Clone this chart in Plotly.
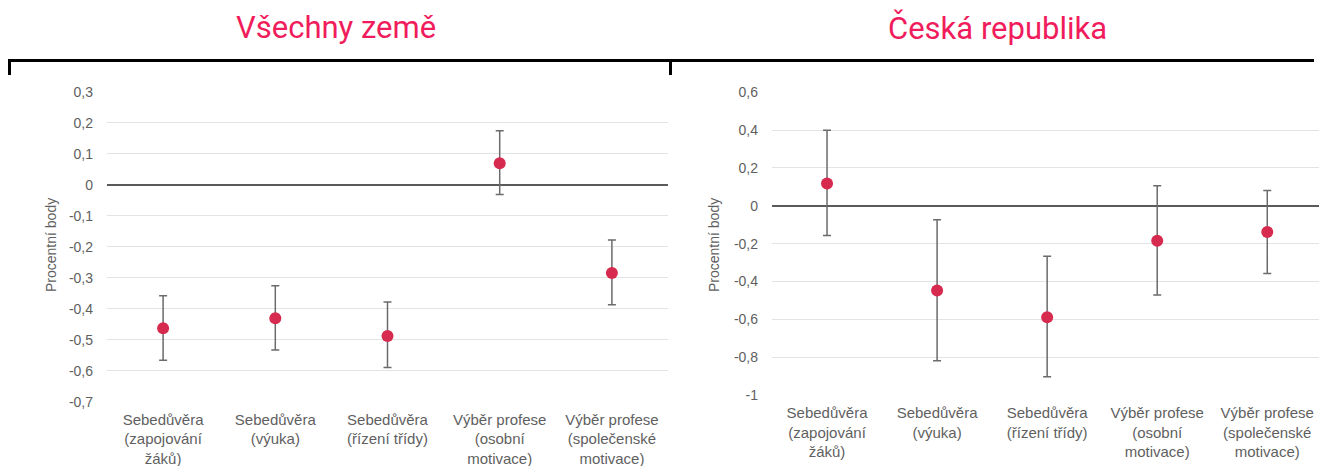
import plotly.graph_objects as go

categories = [
    "Sebedůvěra<br>(zapojování<br>žáků)",
    "Sebedůvěra<br>(výuka)",
    "Sebedůvěra<br>(řízení třídy)",
    "Výběr profese<br>(osobní<br>motivace)",
    "Výběr profese<br>(společenské<br>motivace)",
]

# Všechny země
all_values = [-0.463, -0.431, -0.488, 0.069, -0.285]
all_upper = [-0.358, -0.326, -0.378, 0.174, -0.178]
all_lower = [-0.566, -0.533, -0.590, -0.032, -0.387]

# Česká republika
cz_values = [0.118, -0.448, -0.589, -0.185, -0.139]
cz_upper = [0.400, -0.074, -0.266, 0.106, 0.081]
cz_lower = [-0.157, -0.819, -0.903, -0.472, -0.358]

left_ticks = [0.3, 0.2, 0.1, 0, -0.1, -0.2, -0.3, -0.4, -0.5, -0.6, -0.7]
left_ticktext = ["0,3", "0,2", "0,1", "0", "-0,1", "-0,2", "-0,3", "-0,4", "-0,5", "-0,6", "-0,7"]
right_ticks = [0.6, 0.4, 0.2, 0, -0.2, -0.4, -0.6, -0.8, -1.0]
right_ticktext = ["0,6", "0,4", "0,2", "0", "-0,2", "-0,4", "-0,6", "-0,8", "-1"]

titles = ["Všechny země", "Česká republika"]
ytitle = "Procentní body"

W, H = 1319, 466
POINT = "#D62A4F"
ERR = "#6b6b6b"
TXT = "#5f5f5f"
TITLE_C = "#F01C5C"

fig = go.Figure()

def add_series(vals, up, lo, xa, ya):
    fig.add_trace(go.Scatter(
        x=categories, y=vals, mode="markers",
        marker=dict(size=12, color=POINT),
        error_y=dict(type="data", symmetric=False,
                     array=[u - v for u, v in zip(up, vals)],
                     arrayminus=[v - l for v, l in zip(vals, lo)],
                     color=ERR, thickness=1.5, width=4),
        xaxis=xa, yaxis=ya, showlegend=False, hoverinfo="skip",
    ))

add_series(all_values, all_upper, all_lower, "x", "y")
add_series(cz_values, cz_upper, cz_lower, "x2", "y2")

axis_font = dict(family="Liberation Sans, Arial, sans-serif", size=14, color=TXT)
cat_font = dict(family="Liberation Sans, Arial, sans-serif", size=15, color=TXT)

common_x = dict(type="category", showgrid=False, zeroline=False, showline=False,
                ticks="", tickfont=cat_font, ticklabelstandoff=7,
                fixedrange=True, automargin=False)
common_y = dict(showgrid=True, gridcolor="#e3e3e3", gridwidth=1,
                zeroline=True, zerolinecolor="#5a5a5a", zerolinewidth=1.5,
                showline=False, ticks="", tickfont=axis_font, ticklabelstandoff=13,
                fixedrange=True, automargin=False)

fig.update_layout(
    width=W, height=H, autosize=False,
    margin=dict(l=0, r=0, t=0, b=0, pad=0),
    paper_bgcolor="white", plot_bgcolor="white",
    xaxis=dict(domain=[107 / W, 668 / W], range=[-0.5, 4.5], anchor="y", **common_x),
    yaxis=dict(domain=[1 - 401.7 / H, 1 - 91.7 / H], range=[-0.7, 0.3], anchor="x",
               tickvals=left_ticks, ticktext=left_ticktext, **common_y),
    xaxis2=dict(domain=[772 / W, 1.0], range=[-0.5, 4.47], anchor="y2", **common_x),
    yaxis2=dict(domain=[1 - 395 / H, 1 - 92.3 / H], range=[-1.0, 0.6], anchor="x2",
                tickvals=right_ticks, ticktext=right_ticktext, **common_y),
)

title_font = dict(family="Roboto, sans-serif", size=31, color=TITLE_C)
fig.add_annotation(text=titles[0], x=336 / W, y=1 - 28 / H, xref="paper", yref="paper",
                   showarrow=False, font=title_font, xanchor="center", yanchor="middle")
fig.add_annotation(text=titles[1], x=998 / W, y=1 - 28 / H, xref="paper", yref="paper",
                   showarrow=False, font=title_font, xanchor="center", yanchor="middle")

ytitle_font = dict(family="Liberation Sans, Arial, sans-serif", size=14, color=TXT)
fig.add_annotation(text=ytitle, x=51 / W, y=1 - 245 / H, xref="paper", yref="paper",
                   showarrow=False, textangle=-90, font=ytitle_font,
                   xanchor="center", yanchor="middle")
fig.add_annotation(text=ytitle, x=714 / W, y=1 - 245 / H, xref="paper", yref="paper",
                   showarrow=False, textangle=-90, font=ytitle_font,
                   xanchor="center", yanchor="middle")

# bracket under titles
by = 1 - 60.5 / H
bt = 1 - 75 / H
line = dict(color="black", width=3)
fig.add_shape(type="line", xref="paper", yref="paper", x0=8 / W, x1=1314 / W, y0=by, y1=by, line=line)
fig.add_shape(type="line", xref="paper", yref="paper", x0=9.5 / W, x1=9.5 / W, y0=by, y1=bt, line=line)
fig.add_shape(type="line", xref="paper", yref="paper", x0=670.5 / W, x1=670.5 / W, y0=by, y1=bt, line=line)

fig.write_html("out.html", config={"displayModeBar": False},
               post_script="document.body.style.margin='0';document.body.style.overflow='hidden';")
